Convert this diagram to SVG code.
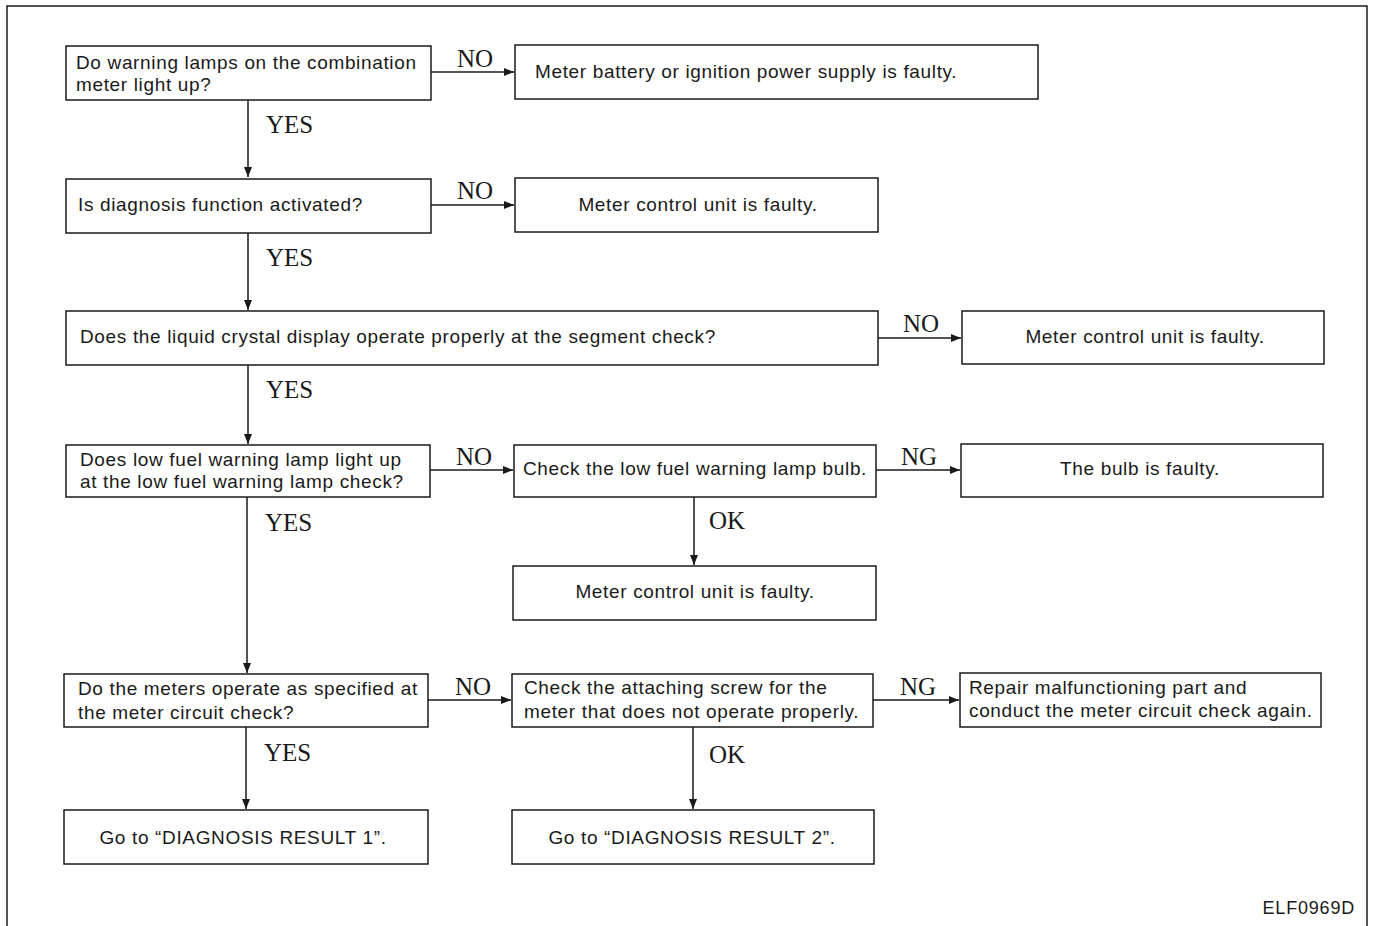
<svg xmlns="http://www.w3.org/2000/svg" width="1373" height="926" viewBox="0 0 1373 926">
<style>
.box{fill:#fff;stroke:#1a1a1a;stroke-width:1.5}
.t{font-family:"Liberation Sans",Arial,sans-serif;font-size:19px;letter-spacing:0.65px;fill:#1a1a1a}
.c{text-anchor:middle}
.l{font-family:"Liberation Serif","Times New Roman",serif;font-size:25px;fill:#1a1a1a}
.w{stroke:#1a1a1a;stroke-width:1.5;fill:none;marker-end:url(#ah)}
</style>
<defs>
<marker id="ah" viewBox="0 0 10 8" refX="10" refY="4" markerWidth="10" markerHeight="8" markerUnits="userSpaceOnUse" orient="auto">
<path d="M0,0 L10,4 L0,8 z" fill="#1a1a1a"/>
</marker>
</defs>
<rect width="1373" height="926" fill="#fff"/>
<path d="M7,926 V6 H1367 V926" fill="none" stroke="#1a1a1a" stroke-width="1.5"/>

<g id="connectors">
<path class="w" d="M431,72 H514"/>
<path class="w" d="M431,205 H514"/>
<path class="w" d="M878,338 H961"/>
<path class="w" d="M430,470 H513"/>
<path class="w" d="M876,470 H960"/>
<path class="w" d="M428,700 H511"/>
<path class="w" d="M873,700 H959"/>
<path class="w" d="M248,100 V177"/>
<path class="w" d="M248,233 V310"/>
<path class="w" d="M248,365 V444"/>
<path class="w" d="M247,497 V673"/>
<path class="w" d="M246,727 V809"/>
<path class="w" d="M694,497 V565"/>
<path class="w" d="M693,727 V809"/>
<text class="l" x="457" y="67">NO</text>
<text class="l" x="457" y="199">NO</text>
<text class="l" x="903" y="332">NO</text>
<text class="l" x="456" y="465">NO</text>
<text class="l" x="901" y="465">NG</text>
<text class="l" x="455" y="695">NO</text>
<text class="l" x="900" y="695">NG</text>
<text class="l" x="266" y="133">YES</text>
<text class="l" x="266" y="266">YES</text>
<text class="l" x="266" y="398">YES</text>
<text class="l" x="265" y="531">YES</text>
<text class="l" x="264" y="761">YES</text>
<text class="l" x="709" y="529">OK</text>
<text class="l" x="709" y="763">OK</text>
</g>

<g id="q1"><rect class="box" x="66" y="46" width="365" height="54"/>
<text class="t" x="76" y="69">Do warning lamps on the combination</text>
<text class="t" x="76" y="91">meter light up?</text></g>
<g id="r1"><rect class="box" x="515" y="45" width="523" height="54"/>
<text class="t" x="535" y="78">Meter battery or ignition power supply is faulty.</text></g>
<g id="q2"><rect class="box" x="66" y="179" width="365" height="54"/>
<text class="t" x="78" y="211">Is diagnosis function activated?</text></g>
<g id="r2"><rect class="box" x="515" y="178" width="363" height="54"/>
<text class="t c" x="698" y="211">Meter control unit is faulty.</text></g>
<g id="q3"><rect class="box" x="66" y="311" width="812" height="54"/>
<text class="t" x="80" y="343">Does the liquid crystal display operate properly at the segment check?</text></g>
<g id="r3"><rect class="box" x="962" y="311" width="362" height="53"/>
<text class="t c" x="1145" y="343">Meter control unit is faulty.</text></g>
<g id="q4"><rect class="box" x="66" y="445" width="364" height="52"/>
<text class="t" x="80" y="466">Does low fuel warning lamp light up</text>
<text class="t" x="80" y="488">at the low fuel warning lamp check?</text></g>
<g id="c4"><rect class="box" x="514" y="445" width="362" height="52"/>
<text class="t" x="523" y="475">Check the low fuel warning lamp bulb.</text></g>
<g id="r4"><rect class="box" x="961" y="444" width="362" height="53"/>
<text class="t c" x="1140" y="475">The bulb is faulty.</text></g>
<g id="r5"><rect class="box" x="513" y="566" width="363" height="54"/>
<text class="t c" x="695" y="598">Meter control unit is faulty.</text></g>
<g id="q5"><rect class="box" x="64" y="674" width="364" height="53"/>
<text class="t" x="78" y="695">Do the meters operate as specified at</text>
<text class="t" x="78" y="719">the meter circuit check?</text></g>
<g id="c5"><rect class="box" x="512" y="674" width="361" height="53"/>
<text class="t" x="524" y="694">Check the attaching screw for the</text>
<text class="t" x="524" y="718">meter that does not operate properly.</text></g>
<g id="r6"><rect class="box" x="960" y="673" width="361" height="54"/>
<text class="t" x="969" y="694">Repair malfunctioning part and</text>
<text class="t" x="969" y="717">conduct the meter circuit check again.</text></g>
<g id="g1"><rect class="box" x="64" y="810" width="364" height="54"/>
<text class="t c" x="243" y="844">Go to “DIAGNOSIS RESULT 1”.</text></g>
<g id="g2"><rect class="box" x="512" y="810" width="362" height="54"/>
<text class="t c" x="692" y="844">Go to “DIAGNOSIS RESULT 2”.</text></g>
<text class="t" x="1355" y="914" text-anchor="end" style="font-size:18px;letter-spacing:0.8px">ELF0969D</text>
</svg>
